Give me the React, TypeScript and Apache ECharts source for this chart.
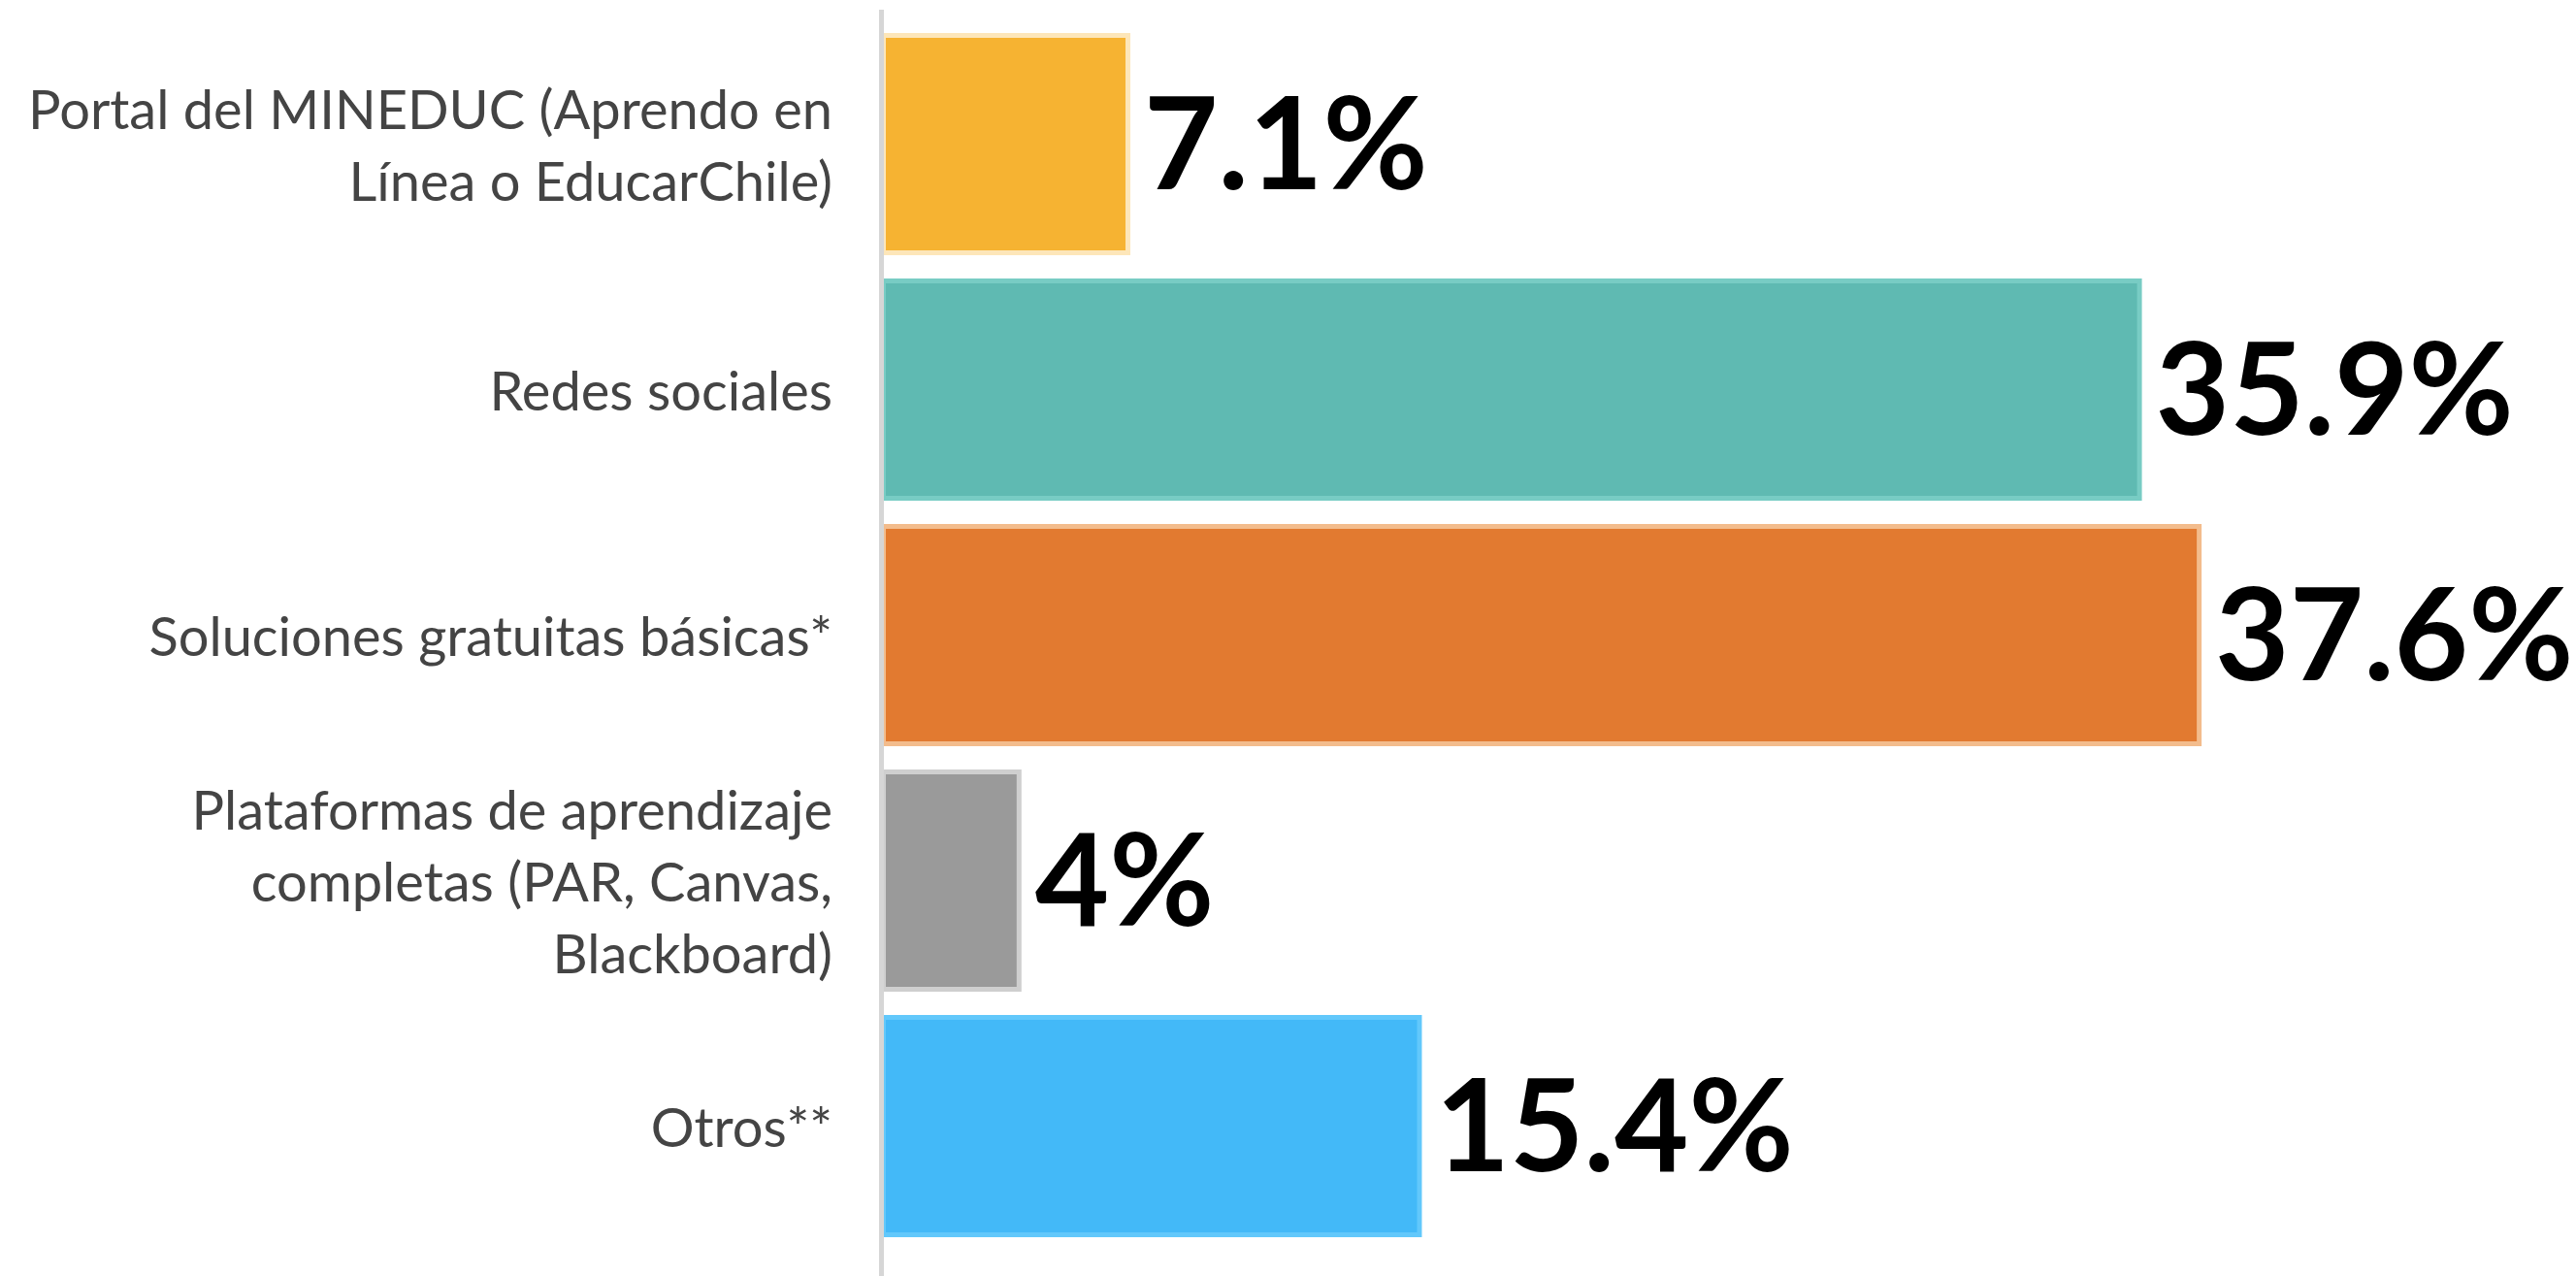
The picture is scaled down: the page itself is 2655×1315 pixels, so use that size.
import React, { useEffect, useRef } from "react";
import * as echarts from "echarts";

const categories = [
  "Portal del MINEDUC (Aprendo en\nLínea o EducarChile)",
  "Redes sociales",
  "Soluciones gratuitas básicas*",
  "Plataformas de aprendizaje\ncompletas (PAR, Canvas,\nBlackboard)",
  "Otros**",
];
const values = [7.1, 35.9, 37.6, 4, 15.4];
const barColors = ["#F6B332", "#5FBAB2", "#E27A30", "#9A9A9A", "#43B9F8"];
const borderColors = ["#FDE6B9", "#78CCC4", "#F3BC8C", "#CFCFCF", "#62C8FB"];

export default function App() {
  const ref = useRef<HTMLDivElement>(null);
  useEffect(() => {
    if (!ref.current) return;
    const chart = echarts.init(ref.current, null, { renderer: "svg" });
    chart.setOption({
      animation: false,
      backgroundColor: "#ffffff",
      grid: { left: 908, right: 299, top: 22, bottom: 28, containLabel: false },
      xAxis: {
        type: "value",
        min: 0,
        max: 40,
        show: false,
        splitLine: { show: false },
      },
      yAxis: {
        type: "category",
        inverse: true,
        data: categories,
        axisLine: { show: false },
        axisTick: { show: false },
        axisLabel: {
          margin: 50,
          fontSize: 56,
          lineHeight: 74,
          color: "#444444",
          fontFamily: "Lato",
          align: "right",
        },
      },
      series: [
        {
          type: "bar",
          barWidth: 229,
          data: values.map((v, i) => ({
            value: v,
            itemStyle: {
              color: barColors[i],
              borderColor: borderColors[i],
              borderWidth: 5,
            },
          })),
          label: {
            show: true,
            position: "right",
            distance: 14,
            offset: [0, -5],
            formatter: (p: any) => `${p.value}%`,
            fontSize: 132,
            fontWeight: "bold",
            fontFamily: "Lato",
            color: "#000000",
          },
        },
      ],
      graphic: [
        {
          type: "line",
          z: 100,
          shape: { x1: 908.5, y1: 10, x2: 908.5, y2: 1315 },
          style: { stroke: "#D6D6D6", lineWidth: 5 },
        },
      ],
    });
    return () => chart.dispose();
  }, []);
  return (
    <div
      ref={ref}
      style={{ position: "fixed", left: 0, top: 0, width: 2655, height: 1315 }}
    />
  );
}
